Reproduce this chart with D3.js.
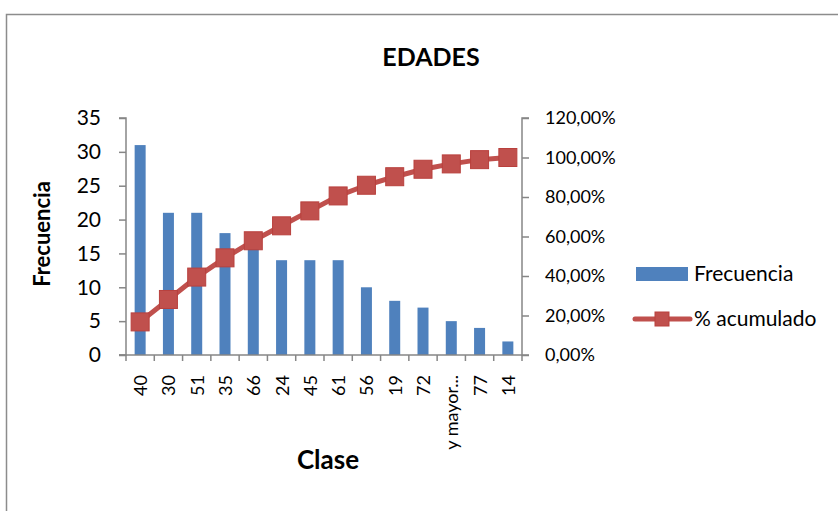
<!DOCTYPE html>
<html>
<head>
<meta charset="utf-8">
<script src="https://cdn.jsdelivr.net/npm/d3@7"></script>
<style>
  html, body { margin: 0; padding: 0; background: #fff; }
  svg { display: block; font-family: Lato, sans-serif; }
</style>
</head>
<body>
<svg id="chart" width="838" height="511"></svg>
<script>
// Frequency table of ages (Pareto order)
const categories = ["40", "30", "51", "35", "66", "24", "45", "61", "56", "19", "72", "y mayor...", "77", "14"];
const frecuencia = [31, 21, 21, 18, 16, 14, 14, 14, 10, 8, 7, 5, 4, 2];
const acumulado = [16.76, 28.11, 39.46, 49.19, 57.84, 65.41, 72.97, 80.54, 85.95, 90.27, 94.05, 96.76, 98.92, 100.0];
const leftTicks = [0, 5, 10, 15, 20, 25, 30, 35];
const rightTicks = [0, 20, 40, 60, 80, 100, 120];

const svg = d3.select("#chart");
const axisColor = "#868686";
const barColor = "#4F81BD";
const lineColor = "#C0504D";

// Chart frame
svg.append("rect")
  .attr("x", 6.5).attr("y", 14.5)
  .attr("width", 900).attr("height", 600)
  .attr("fill", "none").attr("stroke", "#8c8c8c").attr("stroke-width", 1.5);

const plot = { left: 126, right: 522, top: 118, bottom: 355 };

const xOuter = d3.scaleBand().domain(categories).range([plot.left, plot.right]);
const yL = d3.scaleLinear().domain([0, 35]).range([plot.bottom, plot.top]);
const yR = d3.scaleLinear().domain([0, 120]).range([plot.bottom, plot.top]);
const cx = (c) => xOuter(c) + xOuter.bandwidth() / 2;

// Bars
svg.append("g").selectAll("rect").data(categories).join("rect")
  .attr("x", (d) => cx(d) - 5.5)
  .attr("width", 11)
  .attr("y", (d, i) => yL(frecuencia[i]))
  .attr("height", (d, i) => yL(0) - yL(frecuencia[i]))
  .attr("fill", barColor);

// Left axis
const gL = svg.append("g").attr("transform", `translate(${plot.left},0)`)
  .call(d3.axisLeft(yL).tickValues(leftTicks).tickSize(7).tickPadding(18).tickFormat(d3.format("d")));
gL.selectAll("path,line").attr("stroke", axisColor).attr("stroke-width", 1.5);
gL.select("path").attr("d", `M-7,${plot.top}H0V${plot.bottom}H-7`);
gL.selectAll("text").attr("font-size", 21).attr("fill", "#000").attr("font-family", "Lato, sans-serif");

// Right axis
const pct = (v) => v.toFixed(2).replace(".", ",") + "%";
const gR = svg.append("g").attr("transform", `translate(${plot.right},0)`)
  .call(d3.axisRight(yR).tickValues(rightTicks).tickSize(7).tickPadding(16).tickFormat(pct));
gR.selectAll("path,line").attr("stroke", axisColor).attr("stroke-width", 1.5);
gR.select("path").attr("d", `M7,${plot.top}H0V${plot.bottom}H7`);
gR.selectAll("text").attr("font-size", 18).attr("fill", "#000").attr("font-family", "Lato, sans-serif");

// Bottom axis: ticks at category boundaries
const gB = svg.append("g");
gB.append("line")
  .attr("x1", plot.left - 7).attr("x2", plot.right)
  .attr("y1", plot.bottom).attr("y2", plot.bottom)
  .attr("stroke", axisColor).attr("stroke-width", 1.5);
gB.selectAll("line.tick").data(categories.concat([null])).join("line")
  .attr("class", "tick")
  .attr("x1", (d, i) => plot.left + i * xOuter.bandwidth())
  .attr("x2", (d, i) => plot.left + i * xOuter.bandwidth())
  .attr("y1", plot.bottom).attr("y2", plot.bottom + 6)
  .attr("stroke", axisColor).attr("stroke-width", 1.5);
gB.selectAll("text").data(categories).join("text")
  .attr("transform", (d) => `translate(${cx(d)},375) rotate(-90)`)
  .attr("text-anchor", "end")
  .attr("dominant-baseline", "central")
  .attr("font-size", 18)
  .attr("font-family", "Lato, sans-serif")
  .text((d) => d);

// Cumulative percentage line
const line = d3.line()
  .x((d, i) => cx(categories[i]))
  .y((d) => yR(d));
svg.append("path").datum(acumulado)
  .attr("d", line).attr("fill", "none")
  .attr("stroke", lineColor).attr("stroke-width", 5).attr("stroke-linejoin", "round");
svg.append("g").selectAll("rect").data(acumulado).join("rect")
  .attr("x", (d, i) => cx(categories[i]) - 9)
  .attr("y", (d) => yR(d) - 9)
  .attr("width", 18).attr("height", 18)
  .attr("fill", lineColor).attr("stroke", "#b9403d").attr("stroke-width", 1);

// Titles
svg.append("text").attr("x", 431).attr("y", 66).attr("text-anchor", "middle")
  .attr("font-size", 25).attr("font-weight", "bold").text("EDADES");
svg.append("text").attr("transform", "translate(50,234) rotate(-90)").attr("text-anchor", "middle")
  .attr("font-size", 22).attr("font-weight", "bold").text("Frecuencia");
svg.append("text").attr("x", 328).attr("y", 469).attr("text-anchor", "middle")
  .attr("font-size", 26).attr("font-weight", "bold").text("Clase");

// Legend
const lg = svg.append("g");
lg.append("rect").attr("x", 636).attr("y", 267).attr("width", 52).attr("height", 14).attr("fill", barColor);
lg.append("text").attr("x", 694).attr("y", 281).attr("font-size", 21).text("Frecuencia");
lg.append("line").attr("x1", 635).attr("x2", 690).attr("y1", 319).attr("y2", 319)
  .attr("stroke", lineColor).attr("stroke-width", 5).attr("stroke-linecap", "round");
lg.append("rect").attr("x", 655).attr("y", 312).attr("width", 14).attr("height", 14)
  .attr("fill", lineColor).attr("stroke", "#b9403d").attr("stroke-width", 1);
lg.append("text").attr("x", 694).attr("y", 326).attr("font-size", 21).text("% acumulado");
</script>
</body>
</html>
